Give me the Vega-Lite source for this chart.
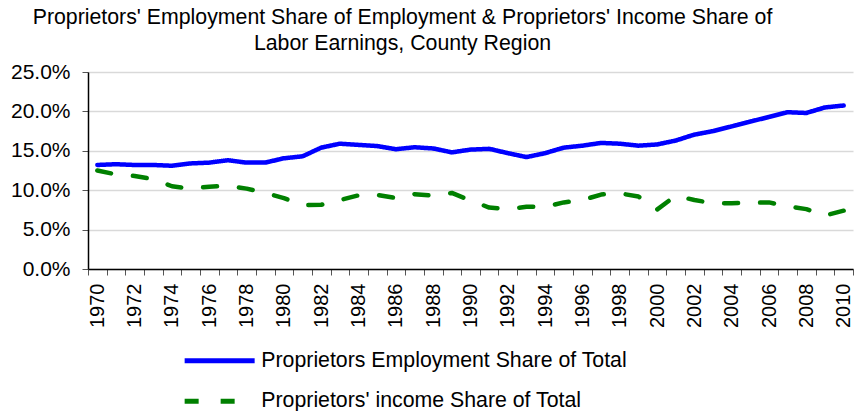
{
  "$schema": "https://vega.github.io/schema/vega-lite/v6.json",
  "width": 765,
  "height": 197,
  "autosize": {"type": "none"},
  "padding": {"left": 88, "top": 72, "right": 9, "bottom": 142},
  "background": "white",
  "config": {
    "font": "Liberation Sans",
    "view": {"stroke": null},
    "axis": {"labelFont": "Liberation Sans", "labelColor": "black"}
  },
  "title": {
    "text": ["Proprietors' Employment Share of Employment & Proprietors' Income Share of", "Labor Earnings, County Region"],
    "font": "Liberation Sans",
    "fontSize": 21.3,
    "fontWeight": "normal",
    "color": "black",
    "anchor": "middle",
    "frame": "group",
    "dx": -68,
    "offset": 7,
    "lineHeight": 26
  },
  "data": {
    "values": [
      {"year": 1970, "series": "Proprietors Employment Share of Total", "value": 0.132},
      {"year": 1971, "series": "Proprietors Employment Share of Total", "value": 0.133},
      {"year": 1972, "series": "Proprietors Employment Share of Total", "value": 0.132},
      {"year": 1973, "series": "Proprietors Employment Share of Total", "value": 0.132},
      {"year": 1974, "series": "Proprietors Employment Share of Total", "value": 0.131},
      {"year": 1975, "series": "Proprietors Employment Share of Total", "value": 0.134},
      {"year": 1976, "series": "Proprietors Employment Share of Total", "value": 0.135},
      {"year": 1977, "series": "Proprietors Employment Share of Total", "value": 0.138},
      {"year": 1978, "series": "Proprietors Employment Share of Total", "value": 0.135},
      {"year": 1979, "series": "Proprietors Employment Share of Total", "value": 0.135},
      {"year": 1980, "series": "Proprietors Employment Share of Total", "value": 0.1405},
      {"year": 1981, "series": "Proprietors Employment Share of Total", "value": 0.143},
      {"year": 1982, "series": "Proprietors Employment Share of Total", "value": 0.154},
      {"year": 1983, "series": "Proprietors Employment Share of Total", "value": 0.159},
      {"year": 1984, "series": "Proprietors Employment Share of Total", "value": 0.1575},
      {"year": 1985, "series": "Proprietors Employment Share of Total", "value": 0.156},
      {"year": 1986, "series": "Proprietors Employment Share of Total", "value": 0.152},
      {"year": 1987, "series": "Proprietors Employment Share of Total", "value": 0.1545},
      {"year": 1988, "series": "Proprietors Employment Share of Total", "value": 0.153},
      {"year": 1989, "series": "Proprietors Employment Share of Total", "value": 0.148},
      {"year": 1990, "series": "Proprietors Employment Share of Total", "value": 0.1515},
      {"year": 1991, "series": "Proprietors Employment Share of Total", "value": 0.1525},
      {"year": 1992, "series": "Proprietors Employment Share of Total", "value": 0.147},
      {"year": 1993, "series": "Proprietors Employment Share of Total", "value": 0.142},
      {"year": 1994, "series": "Proprietors Employment Share of Total", "value": 0.147},
      {"year": 1995, "series": "Proprietors Employment Share of Total", "value": 0.154},
      {"year": 1996, "series": "Proprietors Employment Share of Total", "value": 0.1565},
      {"year": 1997, "series": "Proprietors Employment Share of Total", "value": 0.16},
      {"year": 1998, "series": "Proprietors Employment Share of Total", "value": 0.159},
      {"year": 1999, "series": "Proprietors Employment Share of Total", "value": 0.1565},
      {"year": 2000, "series": "Proprietors Employment Share of Total", "value": 0.158},
      {"year": 2001, "series": "Proprietors Employment Share of Total", "value": 0.163},
      {"year": 2002, "series": "Proprietors Employment Share of Total", "value": 0.1705},
      {"year": 2003, "series": "Proprietors Employment Share of Total", "value": 0.175},
      {"year": 2004, "series": "Proprietors Employment Share of Total", "value": 0.181},
      {"year": 2005, "series": "Proprietors Employment Share of Total", "value": 0.187},
      {"year": 2006, "series": "Proprietors Employment Share of Total", "value": 0.193},
      {"year": 2007, "series": "Proprietors Employment Share of Total", "value": 0.199},
      {"year": 2008, "series": "Proprietors Employment Share of Total", "value": 0.198},
      {"year": 2009, "series": "Proprietors Employment Share of Total", "value": 0.205},
      {"year": 2010, "series": "Proprietors Employment Share of Total", "value": 0.2075},
      {"year": 1970, "series": "Proprietors' income Share of Total", "value": 0.125},
      {"year": 1971, "series": "Proprietors' income Share of Total", "value": 0.120},
      {"year": 1972, "series": "Proprietors' income Share of Total", "value": 0.118},
      {"year": 1973, "series": "Proprietors' income Share of Total", "value": 0.114},
      {"year": 1974, "series": "Proprietors' income Share of Total", "value": 0.105},
      {"year": 1975, "series": "Proprietors' income Share of Total", "value": 0.102},
      {"year": 1976, "series": "Proprietors' income Share of Total", "value": 0.1045},
      {"year": 1977, "series": "Proprietors' income Share of Total", "value": 0.1055},
      {"year": 1978, "series": "Proprietors' income Share of Total", "value": 0.102},
      {"year": 1979, "series": "Proprietors' income Share of Total", "value": 0.0965},
      {"year": 1980, "series": "Proprietors' income Share of Total", "value": 0.090},
      {"year": 1981, "series": "Proprietors' income Share of Total", "value": 0.081},
      {"year": 1982, "series": "Proprietors' income Share of Total", "value": 0.0815},
      {"year": 1983, "series": "Proprietors' income Share of Total", "value": 0.0875},
      {"year": 1984, "series": "Proprietors' income Share of Total", "value": 0.0935},
      {"year": 1985, "series": "Proprietors' income Share of Total", "value": 0.094},
      {"year": 1986, "series": "Proprietors' income Share of Total", "value": 0.090},
      {"year": 1987, "series": "Proprietors' income Share of Total", "value": 0.095},
      {"year": 1988, "series": "Proprietors' income Share of Total", "value": 0.093},
      {"year": 1989, "series": "Proprietors' income Share of Total", "value": 0.0965},
      {"year": 1990, "series": "Proprietors' income Share of Total", "value": 0.087},
      {"year": 1991, "series": "Proprietors' income Share of Total", "value": 0.078},
      {"year": 1992, "series": "Proprietors' income Share of Total", "value": 0.076},
      {"year": 1993, "series": "Proprietors' income Share of Total", "value": 0.079},
      {"year": 1994, "series": "Proprietors' income Share of Total", "value": 0.079},
      {"year": 1995, "series": "Proprietors' income Share of Total", "value": 0.0845},
      {"year": 1996, "series": "Proprietors' income Share of Total", "value": 0.0875},
      {"year": 1997, "series": "Proprietors' income Share of Total", "value": 0.0945},
      {"year": 1998, "series": "Proprietors' income Share of Total", "value": 0.096},
      {"year": 1999, "series": "Proprietors' income Share of Total", "value": 0.092},
      {"year": 2000, "series": "Proprietors' income Share of Total", "value": 0.0755},
      {"year": 2001, "series": "Proprietors' income Share of Total", "value": 0.093},
      {"year": 2002, "series": "Proprietors' income Share of Total", "value": 0.0875},
      {"year": 2003, "series": "Proprietors' income Share of Total", "value": 0.0835},
      {"year": 2004, "series": "Proprietors' income Share of Total", "value": 0.0835},
      {"year": 2005, "series": "Proprietors' income Share of Total", "value": 0.084},
      {"year": 2006, "series": "Proprietors' income Share of Total", "value": 0.0845},
      {"year": 2007, "series": "Proprietors' income Share of Total", "value": 0.0795},
      {"year": 2008, "series": "Proprietors' income Share of Total", "value": 0.076},
      {"year": 2009, "series": "Proprietors' income Share of Total", "value": 0.068},
      {"year": 2010, "series": "Proprietors' income Share of Total", "value": 0.074}
    ]
  },
  "mark": {"type": "line", "strokeWidth": 4.5, "strokeCap": "round", "strokeJoin": "round"},
  "encoding": {
    "x": {
      "field": "year",
      "type": "ordinal",
      "scale": {"paddingInner": 0, "paddingOuter": 0},
      "axis": {
        "title": null,
        "tickBand": "extent",
        "labelAngle": -90,
        "labelAlign": "right",
        "labelBaseline": "middle",
        "labelFontSize": 20,
        "labelPadding": 8,
        "labelExpr": "datum.value % 2 == 0 ? datum.label : ''",
        "labelOverlap": false,
        "domainColor": "black",
        "domainWidth": 1.5,
        "tickColor": "#555555",
        "tickSize": 6,
        "grid": false
      }
    },
    "y": {
      "field": "value",
      "type": "quantitative",
      "scale": {"domain": [0, 0.25], "nice": false},
      "axis": {
        "title": null,
        "format": ".1%",
        "values": [0, 0.05, 0.1, 0.15, 0.2, 0.25],
        "labelFontSize": 21,
        "labelPadding": 12,
        "domainColor": "black",
        "domainWidth": 1.5,
        "tickColor": "#555555",
        "tickSize": 6,
        "grid": true,
        "gridColor": "#d9d9d9",
        "gridWidth": 1.5
      }
    },
    "color": {
      "field": "series",
      "type": "nominal",
      "scale": {
        "domain": ["Proprietors Employment Share of Total", "Proprietors' income Share of Total"],
        "range": ["#0000ff", "#008000"]
      },
      "legend": {
        "title": null,
        "orient": "none",
        "legendX": 121,
        "legendY": 278,
        "direction": "vertical",
        "symbolType": "M-5,0H5",
        "symbolSize": 196,
        "symbolStrokeWidth": 5,
        "labelFontSize": 21.3,
        "labelFont": "Liberation Sans",
        "labelColor": "black",
        "labelOffset": 31,
        "labelLimit": 700,
        "rowPadding": 18.5,
        "padding": 0
      }
    },
    "strokeDash": {
      "field": "series",
      "type": "nominal",
      "scale": {
        "domain": ["Proprietors Employment Share of Total", "Proprietors' income Share of Total"],
        "range": [[1, 0], [14, 22]]
      },
      "legend": null
    }
  }
}
